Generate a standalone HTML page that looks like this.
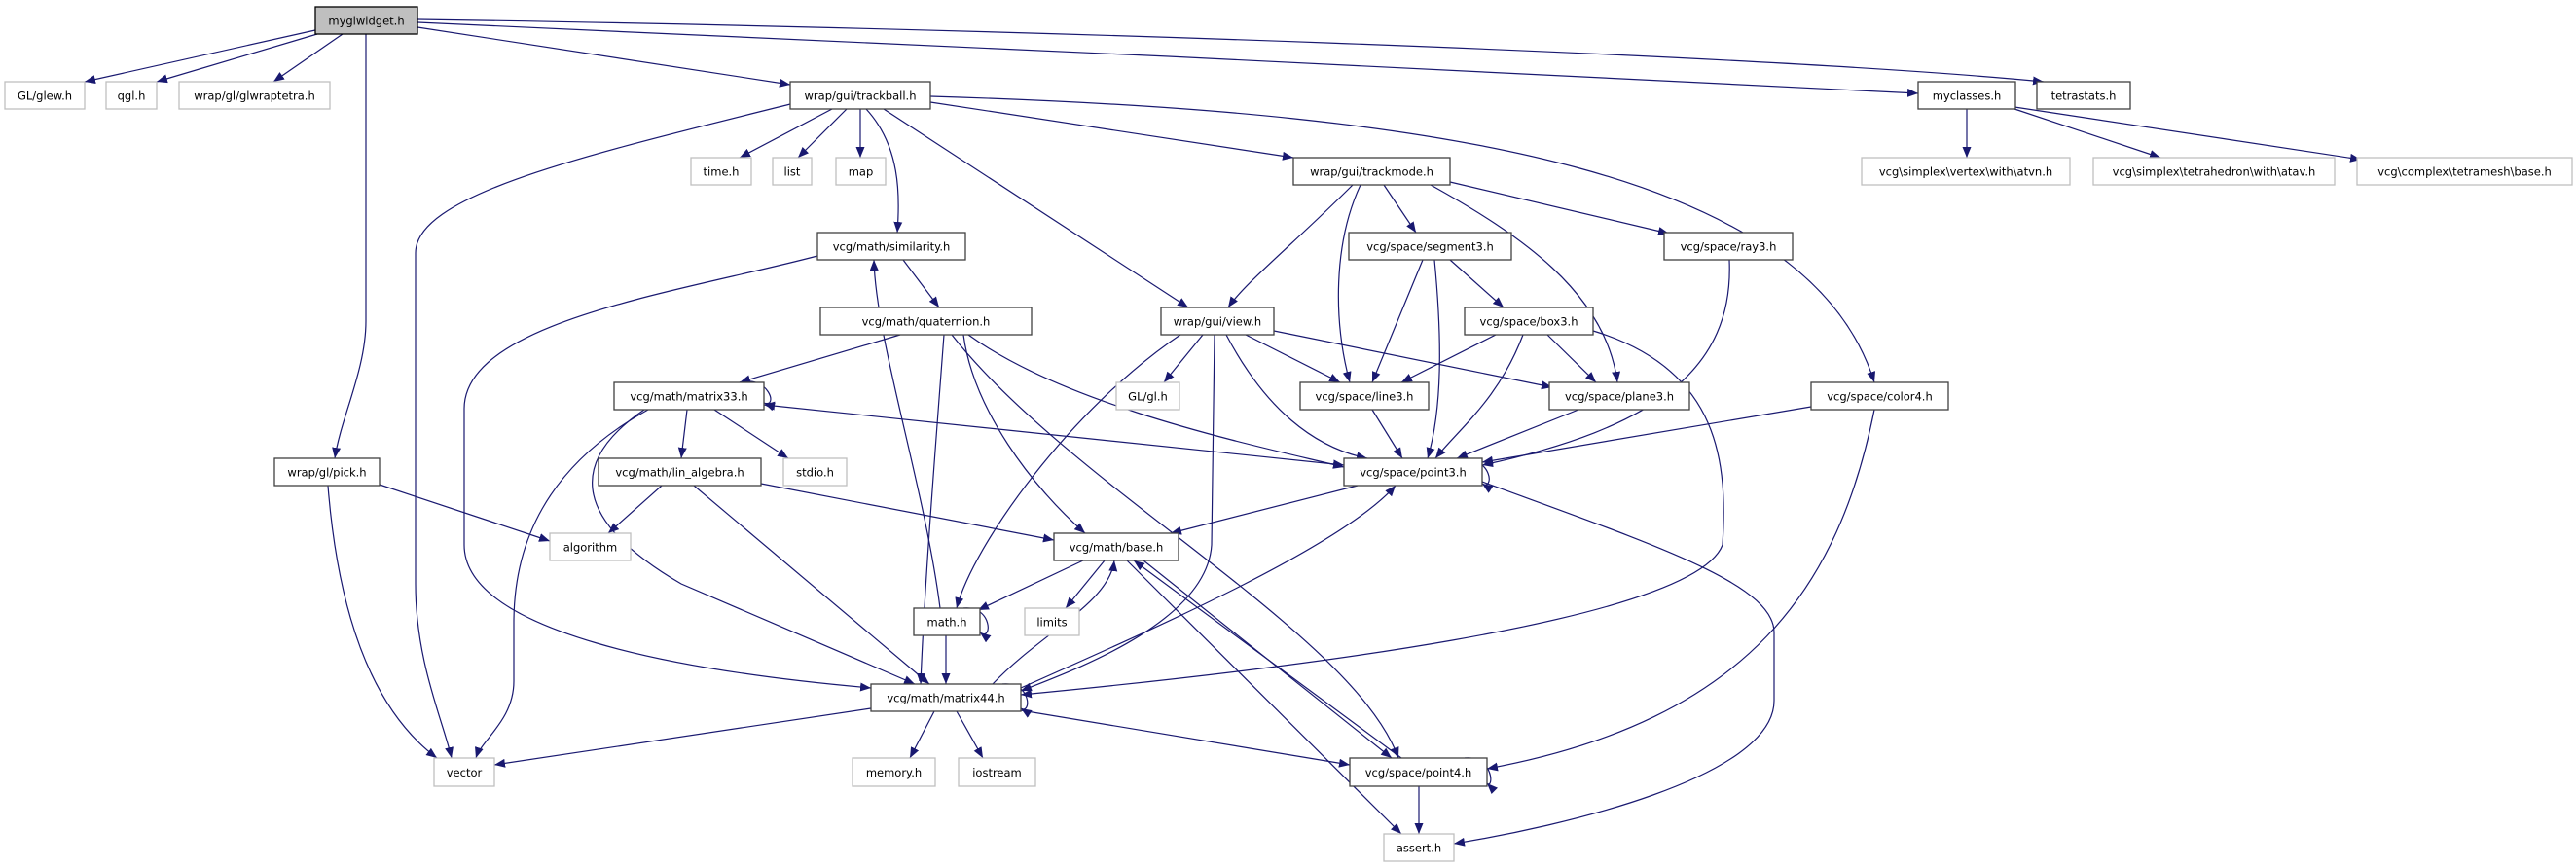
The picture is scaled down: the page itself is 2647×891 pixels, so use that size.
<!DOCTYPE html>
<html><head><meta charset="utf-8"><style>
html,body{margin:0;padding:0;background:#fff;}
svg{display:block;}
text{font-family:"DejaVu Sans","Liberation Sans",sans-serif;font-size:11.5px;fill:#000;text-anchor:middle;}
.n{fill:#fff;stroke:#404040;stroke-width:1.3;}
.u{fill:#fff;stroke:#bfbfbf;stroke-width:1.3;}
.r{fill:#bfbfbf;stroke:#000;stroke-width:1.3;}
.e{fill:none;stroke:#191970;stroke-width:1.2;marker-end:url(#a);}
.b{fill:none;stroke:#191970;stroke-width:1.2;marker-end:url(#a);marker-start:url(#s);}
</style></head><body>
<svg width="2647" height="891" viewBox="0 0 2647 891" xmlns="http://www.w3.org/2000/svg">
<defs>
<marker id="a" markerUnits="userSpaceOnUse" markerWidth="12" markerHeight="10" refX="11" refY="4.5" orient="auto"><path d="M0,0 L11,4.5 L0,9 z" fill="#191970"/></marker>
<marker id="s" markerUnits="userSpaceOnUse" markerWidth="12" markerHeight="10" refX="0" refY="4.5" orient="auto"><path d="M11,0 L0,4.5 L11,9 z" fill="#191970"/></marker>
</defs>

<!-- edges -->
<path class="e" d="M324,31 L87,84"/>
<path class="e" d="M326,35 L161,84"/>
<path class="e" d="M352,35 L281,84"/>
<path class="e" d="M376,35 L376,330 C376,380 350,430 344,471"/>
<path class="e" d="M429,28 L812,87"/>
<path class="e" d="M429,23 C900,45 1500,70 1971,96"/>
<path class="e" d="M429,20 C1000,28 1800,55 2100,84"/>
<path class="e" d="M812,107 C600,160 427,200 427,260 L427,600 C427,680 455,740 464,779"/>
<path class="e" d="M855,112 L760,162"/>
<path class="e" d="M870,112 L820,162"/>
<path class="e" d="M884,112 L884,162"/>
<path class="e" d="M890,112 C925,150 925,200 922,239"/>
<path class="e" d="M908,112 L1221,316"/>
<path class="e" d="M956,105 L1329,162"/>
<path class="e" d="M956,99 C1500,115 1860,180 1926,393"/>
<path class="e" d="M2021,112 L2021,162"/>
<path class="e" d="M2070,112 L2220,162"/>
<path class="e" d="M2070,110 L2426,164"/>
<path class="e" d="M1390,190 C1330,250 1280,290 1262,316"/>
<path class="e" d="M1398,190 C1370,250 1370,330 1387,393"/>
<path class="e" d="M1422,190 L1455,239"/>
<path class="e" d="M1470,190 C1560,240 1650,300 1662,393"/>
<path class="e" d="M1490,187 L1715,240"/>
<path class="e" d="M928,267 L965,316"/>
<path class="e" d="M840,263 C700,300 477,330 477,420 L477,560 C477,650 700,690 895,707"/>
<path class="e" d="M1462,267 L1410,393"/>
<path class="e" d="M1474,267 C1482,350 1482,420 1467,471"/>
<path class="e" d="M1490,267 L1545,316"/>
<path class="e" d="M1777,267 C1782,380 1700,440 1523,478"/>
<path class="e" d="M925,344 L760,393"/>
<path class="e" d="M995,344 C1100,420 1300,460 1381,480"/>
<path class="e" d="M990,344 C1000,420 1060,500 1115,548"/>
<path class="e" d="M970,344 C962,450 950,600 946,703"/>
<path class="e" d="M978,344 C1100,500 1390,650 1437,779"/>
<path class="e" d="M1213,344 C1100,420 1000,560 983,625"/>
<path class="e" d="M1236,344 L1196,393"/>
<path class="e" d="M1280,344 L1377,393"/>
<path class="e" d="M1309,340 L1595,398"/>
<path class="e" d="M1260,344 C1300,420 1350,460 1405,471"/>
<path class="e" d="M1248,344 L1245,560 C1240,640 1100,690 1049,710"/>
<path class="e" d="M1537,344 L1440,393"/>
<path class="e" d="M1565,344 C1540,410 1500,440 1475,471"/>
<path class="e" d="M1590,344 L1640,393"/>
<path class="e" d="M1637,340 C1770,380 1775,480 1770,560 C1740,640 1300,690 1049,714"/>
<path class="e" d="M1523,495 C1700,560 1823,600 1823,650 L1823,720 C1823,800 1600,850 1494,867"/>
<path class="e" d="M760,393 C790,385 800,420 785,414"/>
<path class="e" d="M706,421 L700,471"/>
<path class="e" d="M734,421 L810,471"/>
<path class="b" d="M785,416 L1381,478"/>
<path class="e" d="M666,421 C560,480 528,560 528,640 L528,700 C528,740 495,760 489,779"/>
<path class="e" d="M662,421 C590,470 580,530 700,600 L940,703"/>
<path class="e" d="M1410,421 L1441,471"/>
<path class="e" d="M1622,421 L1497,471"/>
<path class="e" d="M1861,418 L1523,475"/>
<path class="e" d="M1926,421 C1890,600 1800,740 1528,790"/>
<path class="e" d="M390,498 L565,556"/>
<path class="e" d="M337,499 C345,600 370,720 449,779"/>
<path class="e" d="M680,499 L625,548"/>
<path class="e" d="M782,497 L1083,555"/>
<path class="e" d="M713,499 L955,703"/>
<path class="e" d="M1500,471 C1535,470 1535,505 1523,497"/>
<path class="e" d="M1395,499 L1203,548"/>
<path class="e" d="M1113,576 L1005,627"/>
<path class="e" d="M1135,576 L1095,625"/>
<path class="e" d="M1158,576 L1440,857"/>
<path class="e" d="M1440,779 L1165,576"/>
<path class="e" d="M1175,576 L1430,779"/>
<path class="e" d="M966,625 C950,500 900,350 898,267"/>
<path class="e" d="M990,625 C1020,622 1020,660 1007,650"/>
<path class="e" d="M972,653 L972,703"/>
<path class="e" d="M1030,703 C1060,700 1060,735 1049,728"/>
<path class="e" d="M895,728 L508,786"/>
<path class="e" d="M960,731 L935,779"/>
<path class="e" d="M983,731 L1010,779"/>
<path class="e" d="M1049,730 L1387,786"/>
<path class="e" d="M1020,703 C1070,650 1140,620 1145,576"/>
<path class="e" d="M1049,707 C1200,640 1380,560 1434,499"/>
<path class="e" d="M1505,779 C1535,776 1535,812 1528,805"/>
<path class="e" d="M1458,808 L1458,857"/>

<!-- nodes -->
<rect class="r" x="324" y="7" width="105" height="28"/><text x="376.5" y="25.5">myglwidget.h</text>
<rect class="u" x="5" y="84" width="82" height="28"/><text x="46" y="102.5">GL/glew.h</text>
<rect class="u" x="109" y="84" width="52" height="28"/><text x="135" y="102.5">qgl.h</text>
<rect class="u" x="184" y="84" width="155" height="28"/><text x="261.5" y="102.5">wrap/gl/glwraptetra.h</text>
<rect class="n" x="812" y="84" width="144" height="28"/><text x="884" y="102.5">wrap/gui/trackball.h</text>
<rect class="n" x="1971" y="84" width="100" height="28"/><text x="2021" y="102.5">myclasses.h</text>
<rect class="n" x="2093" y="84" width="96" height="28"/><text x="2141" y="102.5">tetrastats.h</text>
<rect class="u" x="710" y="162" width="62" height="28"/><text x="741" y="180.5">time.h</text>
<rect class="u" x="794" y="162" width="40" height="28"/><text x="814" y="180.5">list</text>
<rect class="u" x="859" y="162" width="51" height="28"/><text x="884.5" y="180.5">map</text>
<rect class="n" x="1329" y="162" width="161" height="28"/><text x="1409.5" y="180.5">wrap/gui/trackmode.h</text>
<rect class="u" x="1913" y="162" width="214" height="28"/><text x="2020" y="180.5">vcg\simplex\vertex\with\atvn.h</text>
<rect class="u" x="2151" y="162" width="248" height="28"/><text x="2275" y="180.5">vcg\simplex\tetrahedron\with\atav.h</text>
<rect class="u" x="2422" y="162" width="221" height="28"/><text x="2532.5" y="180.5">vcg\complex\tetramesh\base.h</text>
<rect class="n" x="840" y="239" width="152" height="28"/><text x="916" y="257.5">vcg/math/similarity.h</text>
<rect class="n" x="1386" y="239" width="167" height="28"/><text x="1469.5" y="257.5">vcg/space/segment3.h</text>
<rect class="n" x="1710" y="239" width="132" height="28"/><text x="1776" y="257.5">vcg/space/ray3.h</text>
<rect class="n" x="843" y="316" width="217" height="28"/><text x="951.5" y="334.5">vcg/math/quaternion.h</text>
<rect class="n" x="1193" y="316" width="116" height="28"/><text x="1251" y="334.5">wrap/gui/view.h</text>
<rect class="n" x="1505" y="316" width="132" height="28"/><text x="1571" y="334.5">vcg/space/box3.h</text>
<rect class="n" x="631" y="393" width="154" height="28"/><text x="708" y="411.5">vcg/math/matrix33.h</text>
<rect class="u" x="1147" y="393" width="65" height="28"/><text x="1179.5" y="411.5">GL/gl.h</text>
<rect class="n" x="1336" y="393" width="132" height="28"/><text x="1402" y="411.5">vcg/space/line3.h</text>
<rect class="n" x="1592" y="393" width="144" height="28"/><text x="1664" y="411.5">vcg/space/plane3.h</text>
<rect class="n" x="1861" y="393" width="141" height="28"/><text x="1931.5" y="411.5">vcg/space/color4.h</text>
<rect class="n" x="282" y="471" width="108" height="28"/><text x="336" y="489.5">wrap/gl/pick.h</text>
<rect class="n" x="615" y="471" width="167" height="28"/><text x="698.5" y="489.5">vcg/math/lin_algebra.h</text>
<rect class="u" x="805" y="471" width="65" height="28"/><text x="837.5" y="489.5">stdio.h</text>
<rect class="n" x="1381" y="471" width="142" height="28"/><text x="1452" y="489.5">vcg/space/point3.h</text>
<rect class="u" x="565" y="548" width="83" height="28"/><text x="606.5" y="566.5">algorithm</text>
<rect class="n" x="1083" y="548" width="128" height="28"/><text x="1147" y="566.5">vcg/math/base.h</text>
<rect class="n" x="939" y="625" width="68" height="28"/><text x="973" y="643.5">math.h</text>
<rect class="u" x="1053" y="625" width="56" height="28"/><text x="1081" y="643.5">limits</text>
<rect class="n" x="895" y="703" width="154" height="28"/><text x="972" y="721.5">vcg/math/matrix44.h</text>
<rect class="u" x="446" y="779" width="62" height="29"/><text x="477" y="798">vector</text>
<rect class="u" x="876" y="779" width="85" height="29"/><text x="918.5" y="798">memory.h</text>
<rect class="u" x="985" y="779" width="79" height="29"/><text x="1024.5" y="798">iostream</text>
<rect class="n" x="1387" y="779" width="141" height="29"/><text x="1457.5" y="798">vcg/space/point4.h</text>
<rect class="u" x="1422" y="857" width="72" height="28"/><text x="1458" y="875.5">assert.h</text>
</svg>
</body></html>
